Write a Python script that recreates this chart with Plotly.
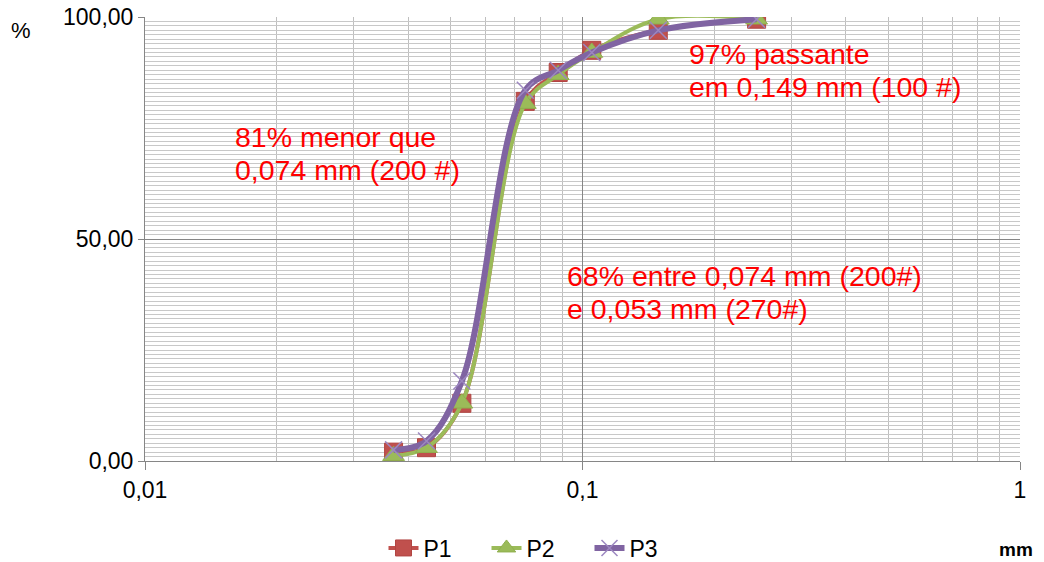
import plotly.graph_objects as go

# Sieve openings (mm)
sizes = [0.037, 0.044, 0.053, 0.074, 0.088, 0.105, 0.149, 0.25]
p1 = [2.0, 3.0, 13.0, 81.0, 87.5, 92.5, 97.0, 99.5]
p2 = [1.2, 3.0, 13.0, 80.5, 87.0, 92.0, 99.5, 99.5]
p3 = [2.5, 4.5, 18.0, 83.5, 88.0, 92.0, 97.0, 99.5]

x_tickvals = [0.01, 0.1, 1]
x_ticktext = ["0,01", "0,1", "1"]
y_tickvals = [0, 50, 100]
y_ticktext = ["0,00", "50,00", "100,00"]

notes = [
    ("81% menor que", 233, 137),
    ("0,074 mm (200 #)", 233, 170),
    ("97% passante", 687, 54),
    ("em 0,149 mm (100 #)", 687, 87),
    ("68% entre 0,074 mm (200#)", 565, 276),
    ("e 0,053 mm (270#)", 565, 309),
]

RED = "#C0504D"
GREEN = "#9BBB59"
PURPLE = "#8064A2"
FONT = "Liberation Sans, Arial, sans-serif"

# plot area in pixels (for converting annotation positions to paper coords)
L, R, T, B = 145, 1020, 17, 461
W, H = R - L, B - T


def px(xp):
    return (xp - L) / W


def py(yp):
    return (B - yp) / H


fig = go.Figure()
fig.add_trace(go.Scatter(
    x=sizes, y=p1, name="P1", mode="lines+markers",
    line=dict(color=RED, width=4, shape="spline", smoothing=1),
    marker=dict(symbol="square", size=18, color=RED, line=dict(color="#B14542", width=1)),
))
fig.add_trace(go.Scatter(
    x=sizes, y=p2, name="P2", mode="lines+markers",
    line=dict(color=GREEN, width=4, shape="spline", smoothing=1),
    marker=dict(symbol="triangle-up", size=19, color=GREEN, line=dict(color="#8FAF4E", width=1)),
))
fig.add_trace(go.Scatter(
    x=sizes, y=p3, name="P3", mode="lines+markers",
    line=dict(color=PURPLE, width=6, shape="spline", smoothing=1),
    marker=dict(symbol="x-thin", size=17, color="#9C87C0", line=dict(color="#9C87C0", width=1.5)),
))

for text, xp, yp in notes:
    fig.add_annotation(
        text=text, x=px(xp), y=py(yp), xref="paper", yref="paper",
        xanchor="left", yanchor="middle", align="left", showarrow=False,
        font=dict(family=FONT, size=28.5, color="#FF0000"),
    )

fig.add_annotation(text="%", x=px(21), y=py(30), xref="paper", yref="paper",
                   showarrow=False, xanchor="center", yanchor="middle",
                   font=dict(family=FONT, size=22, color="#000000"))
fig.add_annotation(text="<b>mm</b>", x=px(1016), y=py(549),
                   xref="paper", yref="paper", showarrow=False,
                   xanchor="center", yanchor="middle",
                   font=dict(family=FONT, size=19, color="#000000"))

fig.update_xaxes(
    type="log", range=[-2, 0],
    tickmode="array", tickvals=x_tickvals, ticktext=x_ticktext,
    showgrid=True, gridcolor="#868686", gridwidth=1,
    ticks="outside", ticklen=8, tickcolor="#868686",
    showline=True, linecolor="#868686", linewidth=1,
    minor=dict(dtick="D1", showgrid=True, gridcolor="#BFBFBF", gridwidth=1, ticks=""),
    tickfont=dict(family=FONT, size=23, color="#000000"),
    zeroline=False, automargin=False,
)
fig.update_yaxes(
    range=[0, 100],
    tickmode="array", tickvals=y_tickvals, ticktext=y_ticktext,
    showgrid=True, gridcolor="#868686", gridwidth=1,
    ticks="outside", ticklen=6, tickcolor="#868686",
    showline=True, linecolor="#868686", linewidth=1,
    minor=dict(dtick=1, showgrid=True, gridcolor="#C8C8C8", gridwidth=1, ticks=""),
    tickfont=dict(family=FONT, size=23, color="#000000"),
    zeroline=False, automargin=False,
)

fig.update_layout(
    width=1044, height=562,
    margin=dict(l=L, r=1044 - R, t=T, b=562 - B, autoexpand=False),
    paper_bgcolor="white", plot_bgcolor="white",
    showlegend=True,
    legend=dict(orientation="h", x=px(538), y=py(548), xanchor="center", yanchor="middle",
                entrywidth=58, entrywidthmode="pixels",
                font=dict(family=FONT, size=23, color="#000000")),
    font=dict(family=FONT),
)

fig.write_html("out.html")
